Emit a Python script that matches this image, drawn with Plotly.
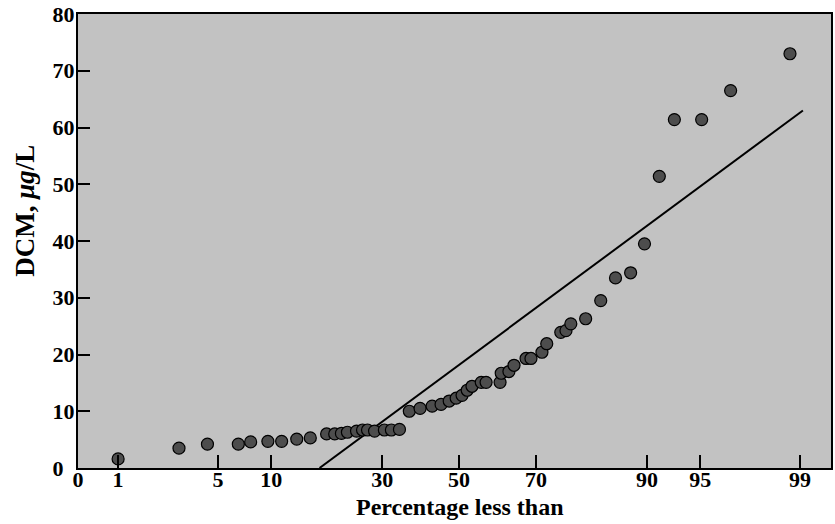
import plotly.graph_objects as go
from statistics import NormalDist

# ---- data ----
pct = [1.0, 2.8, 4.3, 6.6, 7.75, 9.6, 11.3, 13.4, 15.5, 18.3, 19.8, 21.1, 22.3, 24.2,
       25.5, 26.6, 28.2, 30.5, 32.2, 34.2, 36.7, 39.5, 42.7, 45.1, 47.3, 49.2, 50.8,
       52.2, 53.5, 56.0, 57.3, 61.0, 61.3, 63.3, 64.6, 67.6, 68.8, 71.4, 72.5, 75.6,
       76.7, 77.7, 80.6, 83.3, 85.7, 87.9, 89.7, 91.4, 92.9, 95.1, 96.8, 98.8]
dcm = [1.6, 3.5, 4.2, 4.2, 4.6, 4.7, 4.7, 5.1, 5.3, 6.0, 6.0, 6.1, 6.3, 6.5,
       6.7, 6.7, 6.5, 6.7, 6.7, 6.8, 10.0, 10.5, 10.9, 11.2, 11.8, 12.3, 12.8,
       13.7, 14.4, 15.1, 15.1, 15.1, 16.7, 17.0, 18.1, 19.3, 19.3, 20.4, 21.9, 23.9,
       24.2, 25.4, 26.3, 29.5, 33.5, 34.4, 39.5, 51.4, 61.4, 61.4, 66.5, 73.0]

line_pct = [17.05, 99.05]
line_dcm = [0, 63]

tick_pct = [1, 5, 10, 30, 50, 70, 90, 95, 99]
tick_text = ["0", "1", "5", "10", "30", "50", "70", "90", "95", "99"]
y_ticks = [0, 10, 20, 30, 40, 50, 60, 70, 80]

nd = NormalDist()


def z(p):
    return nd.inv_cdf(p / 100.0)


x_left, x_right = -2.6, 2.537

fig = go.Figure()
fig.add_trace(go.Scatter(
    x=[z(p) for p in line_pct], y=line_dcm, mode="lines",
    line=dict(color="black", width=2), hoverinfo="skip"))
fig.add_trace(go.Scatter(
    x=[z(p) for p in pct], y=dcm, mode="markers",
    marker=dict(size=12, color="#4d4d4d", line=dict(color="black", width=1.2))))

y_text = ["<b>%d</b>" % v for v in y_ticks]
y_text[0] = "<b>0</b>&nbsp;&nbsp;"

font_family = "Liberation Serif"
fig.update_layout(
    width=835, height=524,
    margin=dict(l=78, r=2, t=13, b=56),
    paper_bgcolor="white", plot_bgcolor="#c2c2c2",
    showlegend=False,
    font=dict(family=font_family, color="black"),
    xaxis=dict(range=[x_left, x_right], tickvals=[x_left] + [z(p) for p in tick_pct],
               ticktext=["<b>%s</b>" % t for t in tick_text],
               ticks="inside", ticklen=13, tickwidth=1.5, tickcolor="black",
               showline=True, linecolor="black", linewidth=2, mirror=True,
               showgrid=False, zeroline=False, ticklabelstandoff=-9,
               tickfont=dict(size=22, family=font_family)),
    yaxis=dict(range=[0, 80], tickvals=y_ticks, ticktext=y_text,
               ticks="inside", ticklen=12, tickwidth=1.5, tickcolor="black",
               showline=True, linecolor="black", linewidth=2, mirror=True,
               showgrid=False, zeroline=False, ticklabelstandoff=-3,
               tickfont=dict(size=22, family=font_family)),
    annotations=[
        dict(text="<b>Percentage less than</b>", xref="paper", yref="paper",
             x=0.507, y=-0.0857, xanchor="center", yanchor="middle", showarrow=False,
             font=dict(size=24, family=font_family)),
        dict(text="<b>DCM, <i>μg</i>/L</b>", xref="paper", yref="paper",
             x=-0.0715, y=0.567, xanchor="center", yanchor="middle", textangle=-90,
             showarrow=False, font=dict(size=27, family=font_family)),
    ],
)

fig.write_html(
    "out.html",
    config={"displayModeBar": False},
    post_script="document.body.style.margin='0';document.body.style.overflow='hidden';",
)
